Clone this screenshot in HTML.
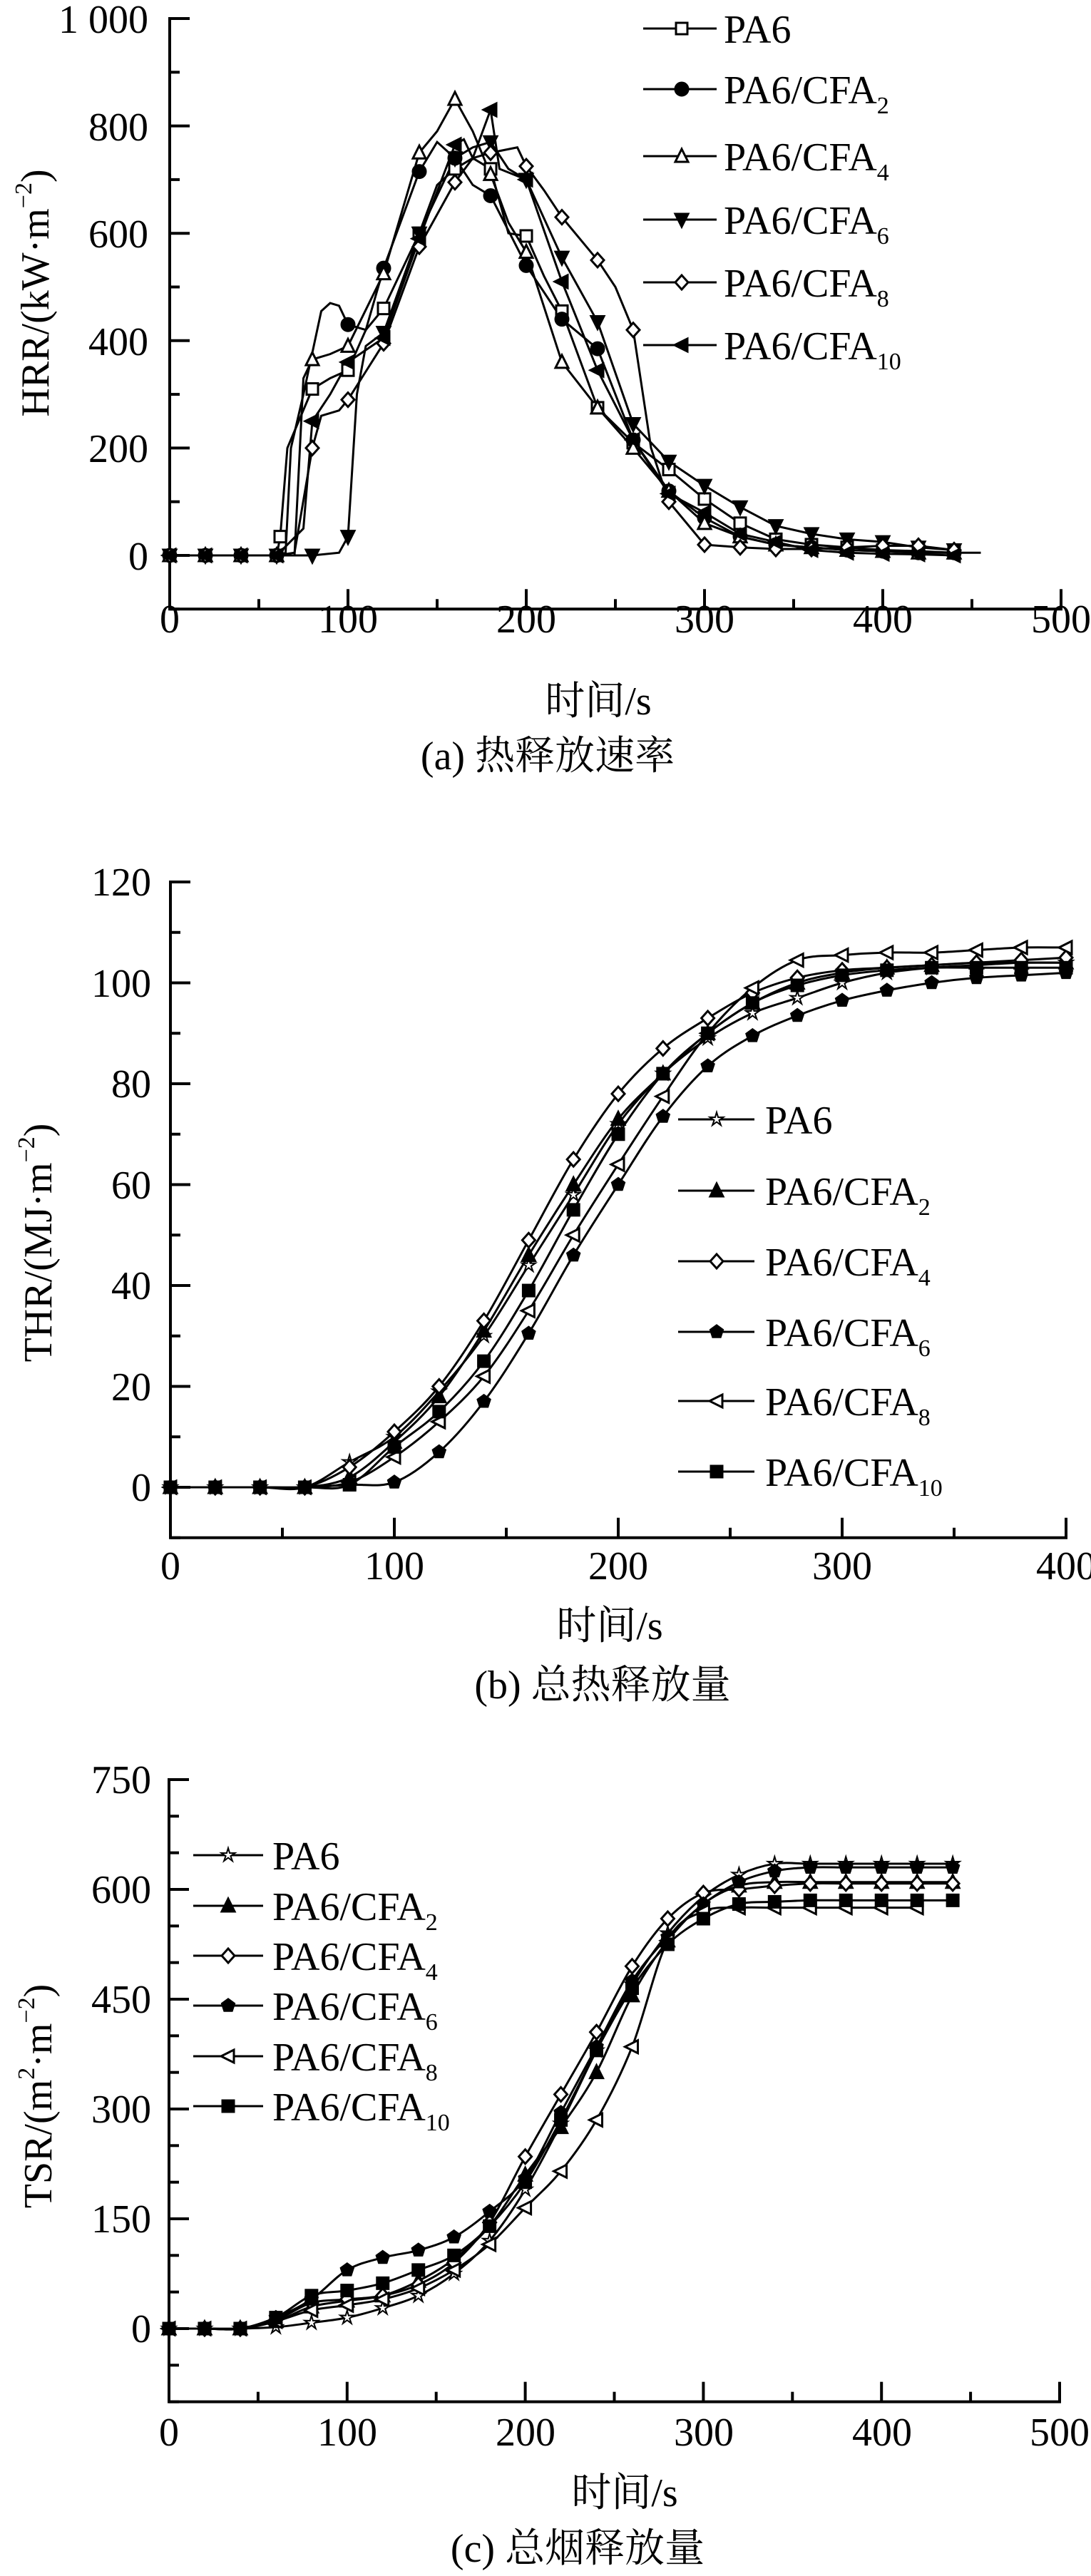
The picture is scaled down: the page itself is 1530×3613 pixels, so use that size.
<!DOCTYPE html>
<html><head><meta charset="utf-8">
<style>
html,body{margin:0;padding:0;background:#fff;}
svg{display:block;}
text{font-family:"Liberation Serif","Noto Serif CJK SC",serif;fill:#000;}
.t{font-size:56px;}
.lg{font-size:56px;}
.cj{font-family:"Liberation Serif","Noto Serif CJK SC","Noto Sans CJK SC",serif;}
</style></head>
<body>
<svg id="s" width="1530" height="3613" viewBox="0 0 1530 3613" xmlns="http://www.w3.org/2000/svg">
<g id="axes" stroke="#000" stroke-width="4" fill="none"></g>
<g id="series" fill="none" stroke="#000" stroke-width="3"></g>
<g id="marks" stroke="#000" stroke-width="3"></g>

<!-- Chart a texts -->
<g class="t" text-anchor="end">
<text x="208" y="46">1 000</text><text x="208" y="197">800</text><text x="208" y="347">600</text>
<text x="208" y="498">400</text><text x="208" y="648">200</text><text x="208" y="799">0</text>
</g>
<g class="t" text-anchor="middle">
<text x="238" y="887">0</text><text x="488" y="887">100</text><text x="738" y="887">200</text>
<text x="988" y="887">300</text><text x="1238" y="887">400</text><text x="1488" y="887">500</text>
</g>
<text class="t cj" x="839" y="1002" text-anchor="middle">时间/s</text>
<text class="t cj" x="768" y="1079" text-anchor="middle" font-size="54">(a) 热释放速率</text>
<text class="t" transform="translate(68,411) rotate(-90)" text-anchor="middle">HRR/(kW·m<tspan font-size="34" dy="-24">−2</tspan><tspan dy="24">)</tspan></text>

<!-- Chart b texts -->
<g class="t" text-anchor="end">
<text x="212" y="1256">120</text><text x="212" y="1398">100</text><text x="212" y="1539">80</text>
<text x="212" y="1681">60</text><text x="212" y="1822">40</text><text x="212" y="1964">20</text><text x="212" y="2105">0</text>
</g>
<g class="t" text-anchor="middle">
<text x="239" y="2215">0</text><text x="553" y="2215">100</text><text x="867" y="2215">200</text>
<text x="1181" y="2215">300</text><text x="1495" y="2215">400</text>
</g>
<text class="t cj" x="855" y="2299" text-anchor="middle">时间/s</text>
<text class="t cj" x="845" y="2382" text-anchor="middle" font-size="54">(b) 总热释放量</text>
<text class="t" transform="translate(72,1743) rotate(-90)" text-anchor="middle">THR/(MJ·m<tspan font-size="34" dy="-24">−2</tspan><tspan dy="24">)</tspan></text>

<!-- Chart c texts -->
<g class="t" text-anchor="end">
<text x="212" y="2515">750</text><text x="212" y="2669">600</text><text x="212" y="2823">450</text>
<text x="212" y="2977">300</text><text x="212" y="3131">150</text><text x="212" y="3285">0</text>
</g>
<g class="t" text-anchor="middle">
<text x="237" y="3430">0</text><text x="487" y="3430">100</text><text x="737" y="3430">200</text>
<text x="987" y="3430">300</text><text x="1237" y="3430">400</text><text x="1486" y="3430">500</text>
</g>
<text class="t cj" x="876" y="3515" text-anchor="middle">时间/s</text>
<text class="t cj" x="810" y="3593" text-anchor="middle" font-size="54">(c) 总烟释放量</text>
<text class="t" transform="translate(72,2940) rotate(-90)" text-anchor="middle">TSR/(m<tspan font-size="34" dy="-24">2</tspan><tspan dy="24">·m</tspan><tspan font-size="34" dy="-24">−2</tspan><tspan dy="24">)</tspan></text>

<!-- Legends -->
<g class="lg">
<text x="1015" y="60">PA6</text>
<text x="1015" y="145">PA6/CFA<tspan font-size="34" dy="14">2</tspan></text>
<text x="1015" y="239">PA6/CFA<tspan font-size="34" dy="14">4</tspan></text>
<text x="1015" y="328">PA6/CFA<tspan font-size="34" dy="14">6</tspan></text>
<text x="1015" y="416">PA6/CFA<tspan font-size="34" dy="14">8</tspan></text>
<text x="1015" y="504">PA6/CFA<tspan font-size="34" dy="14">10</tspan></text>

<text x="1073" y="1590">PA6</text>
<text x="1073" y="1690">PA6/CFA<tspan font-size="34" dy="14">2</tspan></text>
<text x="1073" y="1789">PA6/CFA<tspan font-size="34" dy="14">4</tspan></text>
<text x="1073" y="1888">PA6/CFA<tspan font-size="34" dy="14">6</tspan></text>
<text x="1073" y="1985">PA6/CFA<tspan font-size="34" dy="14">8</tspan></text>
<text x="1073" y="2084">PA6/CFA<tspan font-size="34" dy="14">10</tspan></text>

<text x="382" y="2622">PA6</text>
<text x="382" y="2693">PA6/CFA<tspan font-size="34" dy="14">2</tspan></text>
<text x="382" y="2763">PA6/CFA<tspan font-size="34" dy="14">4</tspan></text>
<text x="382" y="2833">PA6/CFA<tspan font-size="34" dy="14">6</tspan></text>
<text x="382" y="2904">PA6/CFA<tspan font-size="34" dy="14">8</tspan></text>
<text x="382" y="2974">PA6/CFA<tspan font-size="34" dy="14">10</tspan></text>
</g>
</svg>
<script>
(function(){
var NS="http://www.w3.org/2000/svg";
var ax=document.getElementById('axes'),se=document.getElementById('series'),mk=document.getElementById('marks');
function el(p,tag,a){var e=document.createElementNS(NS,tag);for(var k in a)e.setAttribute(k,a[k]);p.appendChild(e);return e;}
function line(x1,y1,x2,y2){el(ax,'line',{x1:x1,y1:y1,x2:x2,y2:y2});}
function marker(type,x,y){
 var r=8,f='#fff',o;
 var filled=/F$/.test(type);var t=type.replace(/F$/,'');f=filled?'#000':'#fff';
 if(t=='sq')o=el(mk,'rect',{x:x-r,y:y-r,width:2*r,height:2*r,fill:f});
 else if(t=='ci')o=el(mk,'circle',{cx:x,cy:y,r:r+1,fill:f});
 else{var pts;
  if(t=='tu')pts=[[0,-r-2],[r+1,r],[-r-1,r]];
  else if(t=='td')pts=[[0,r+2],[r+1,-r],[-r-1,-r]];
  else if(t=='tl')pts=[[-r-2,0],[r,-r-1],[r,r+1]];
  else if(t=='di')pts=[[0,-r-2],[r+1,0],[0,r+2],[-r-1,0]];
  else if(t=='pe'){pts=[];for(var i=0;i<5;i++){var a=-Math.PI/2+i*2*Math.PI/5;pts.push([Math.cos(a)*(r+1),Math.sin(a)*(r+1)]);}}
  else if(t=='st'){pts=[];for(var i=0;i<10;i++){var a=-Math.PI/2+i*Math.PI/5,rr=i%2?r*0.45:r+2;pts.push([Math.cos(a)*rr,Math.sin(a)*rr]);}}
  o=el(mk,'polygon',{points:pts.map(function(p){return (x+p[0])+','+(y+p[1]);}).join(' '),fill:f,'stroke-width':t=='st'?2:3});
 }
}
function path(pts,smooth){
 var d='M'+pts[0][0]+','+pts[0][1];
 if(!smooth){for(var i=1;i<pts.length;i++)d+='L'+pts[i][0]+','+pts[i][1];}
 else{for(var i=0;i<pts.length-1;i++){var p0=pts[i>0?i-1:i],p1=pts[i],p2=pts[i+1],p3=pts[i+2<pts.length?i+2:i+1];
  var c1=[p1[0]+(p2[0]-p0[0])/6,p1[1]+(p2[1]-p0[1])/6],c2=[p2[0]-(p3[0]-p1[0])/6,p2[1]-(p3[1]-p1[1])/6];
  d+='C'+c1[0]+','+c1[1]+' '+c2[0]+','+c2[1]+' '+p2[0]+','+p2[1];}}
 el(se,'path',{d:d});
}
function chart(c){
 var X=function(v){return c.x0+v*c.sx;},Y=function(v){return c.y0-v*c.sy;};
 // axes
 line(c.x0,Y(c.ymax)-2,c.x0,Y(c.ymin));
 line(c.x0-2,Y(c.ymin),X(c.xmax)+2,Y(c.ymin));
 for(var v=c.ymin;v<=c.ymax+1e-6;v+=c.ymt){line(c.x0,Y(v),c.x0+(Math.abs((v/c.ymaj)-Math.round(v/c.ymaj))<1e-6?c.tl:c.ts),Y(v));}
 for(var v=c.xmt;v<=c.xmax+1e-6;v+=c.xmt){var maj=Math.abs(v/100-Math.round(v/100))<1e-6;line(X(v),Y(c.ymin),X(v),Y(c.ymin)-(maj?c.tl:c.ts));}
 c.series.forEach(function(s,si){
  var pts=s.d.map(function(p){return [X(p[0]),Y(p[1])];});
  path(pts,c.smooth);
  s.d.forEach(function(p){if(p[2]!==0&&(Math.abs(p[0]%20)<1e-6||p[2]))marker(s.m,X(p[0]),Y(p[1]));});
  // legend
  var ly=c.leg.y[si];el(se,'line',{x1:c.leg.x1,y1:ly,x2:c.leg.x2,y2:ly});marker(s.m,c.leg.mx,ly);
 });
}
function steps(arr,end,val){return arr;}
// HRR
chart({x0:238,sx:2.5,y0:779,sy:0.753,ymin:-100,ymax:1000,ymt:100,ymaj:200,xmax:500,xmt:50,tl:28,ts:14,smooth:false,
 leg:{x1:902,x2:1005,mx:956,y:[40,125,219,308,396,484]},
 series:[
 {m:'sq',d:[[0,0],[20,0],[40,0],[60,0,0],[62,35,1],[66,200,0],[80,310],[90,330,0],[100,345],[110,420,0],[120,460],[140,600],[150,690,0],[160,720],[170,740,0],[180,720],[190,600,0],[200,595],[210,520,0],[220,455],[240,275],[260,210],[280,160],[300,105],[320,60],[340,30],[360,20],[380,15],[400,10],[420,8],[440,5],[455,5,0]]},
 {m:'ciF',d:[[0,0],[20,0],[40,0],[60,0],[65,5,0],[68,200,0],[75,300,0],[85,455,0],[90,470,0],[95,465,0],[100,430],[110,420,0],[120,535],[140,715],[150,770,0],[160,740],[170,690,0],[180,670],[200,540],[220,440],[240,385],[250,300,0],[260,215],[280,120],[300,70],[320,35],[340,20],[360,15],[380,10],[400,8],[420,5],[440,5]]},
 {m:'tu',d:[[0,0],[20,0],[40,0],[60,0],[70,0,0],[75,330,0],[80,365],[90,375,0],[100,390],[120,525],[140,750],[150,790,0],[160,850],[170,790,0],[180,710],[190,620,0],[200,565],[220,360],[240,275],[260,200],[280,120],[300,60],[320,35],[340,20],[360,15],[380,10],[400,8],[420,5],[440,5]]},
 {m:'tdF',d:[[0,0],[20,0],[40,0],[60,0],[80,0],[95,5,0],[100,35],[105,300,0],[110,390,0],[120,415],[140,600],[160,740],[170,760,0],[180,770],[190,720,0],[200,700],[220,555],[240,435],[260,245],[280,175],[300,130],[320,90],[340,55],[360,40],[380,30],[400,25],[420,15],[440,10]]},
 {m:'di',d:[[0,0],[20,0],[40,0],[60,0],[70,5,0],[80,200],[85,260,0],[95,270,0],[100,290],[120,395],[140,575],[160,695],[170,740,0],[180,750],[195,760,0],[200,725],[210,680,0],[220,630],[240,550],[250,500,0],[260,420],[270,200,0],[280,100],[300,20],[320,15],[340,12],[360,12],[380,15],[400,18],[420,18],[440,10]]},
 {m:'tlF',d:[[0,0],[20,0],[40,0],[60,0],[75,50,0],[80,250],[90,300,0],[100,360],[120,405],[140,590],[160,765],[165,775,0],[170,740,0],[180,830],[185,720,0],[200,700],[220,510],[240,345],[260,215],[280,115],[300,80],[320,40],[340,25],[360,10],[380,5],[400,3],[420,2],[440,0]]}
 ]});
// THR
function mk2(vals){var out=[];for(var i=0;i<vals.length;i++)out.push([i*20,vals[i]]);return out;}
chart({x0:239,sx:3.14,y0:2086,sy:7.075,ymin:-10,ymax:120,ymt:10,ymaj:20,xmax:400,xmt:50,tl:28,ts:14,smooth:true,
 leg:{x1:951,x2:1058,mx:1005,y:[1570,1670,1769,1868,1965,2064]},
 series:[
 {m:'st',d:mk2([0,0,0,0,5,10,19,30,44,58,72,82,89,94,97,100,102,103,103.5,104,104])},
 {m:'tuF',d:mk2([0,0,0,0,2,9,18,31,46,60,73,82,90,96,100,102,103,103.5,104,104,104])},
 {m:'di',d:mk2([0,0,0,0,4,11,20,33,49,65,78,87,93,98,101,102.5,103,103.5,104,104.5,105])},
 {m:'peF',d:mk2([0,0,0,0,0.5,1,7,17,30.5,46,60,73.5,83.5,89.5,93.5,96.5,98.5,100,101,101.5,102])},
 {m:'tl',d:mk2([0,0,0,0,1,6,13,22,35,50,64,77.5,90,99,104.5,105.5,106,106,106.5,107,107])},
 {m:'sqF',d:mk2([0,0,0,0,0.5,8,15,25,39,55,70,82,90,96,99.5,101.5,102.5,103,103,103,103])}
 ]});
// TSR
chart({x0:237,sx:2.498,y0:3266,sy:1.0267,ymin:-100,ymax:750,ymt:50,ymaj:150,xmax:500,xmt:50,tl:28,ts:14,smooth:true,
 leg:{x1:271,x2:369,mx:320,y:[2602,2673,2743,2813,2884,2954]},
 series:[
 {m:'st',d:mk2([0,0,0,2,8,15,28,45,75,120,190,280,380,470,540,590,620,635,635,635,635,635,635])},
 {m:'tuF',d:mk2([0,0,0,10,30,38,45,65,95,140,210,275,350,455,530,580,605,610,610,610,610,610,610])},
 {m:'di',d:mk2([0,0,0,12,35,40,45,60,90,145,235,320,405,495,560,595,600,605,608,608,608,608,608])},
 {m:'peF',d:mk2([0,0,0,15,40,80,97,107,125,160,205,295,385,475,535,580,610,625,630,630,630,630,630])},
 {m:'tl',d:mk2([0,0,0,10,25,32,40,55,80,115,165,215,285,385,530,570,575,575,575,575,575,575])},
 {m:'sqF',d:mk2([0,0,0,15,45,52,62,80,100,140,200,285,380,465,525,560,580,583,585,585,585,585,585])}
 ]});
})();
</script>
</body></html>
